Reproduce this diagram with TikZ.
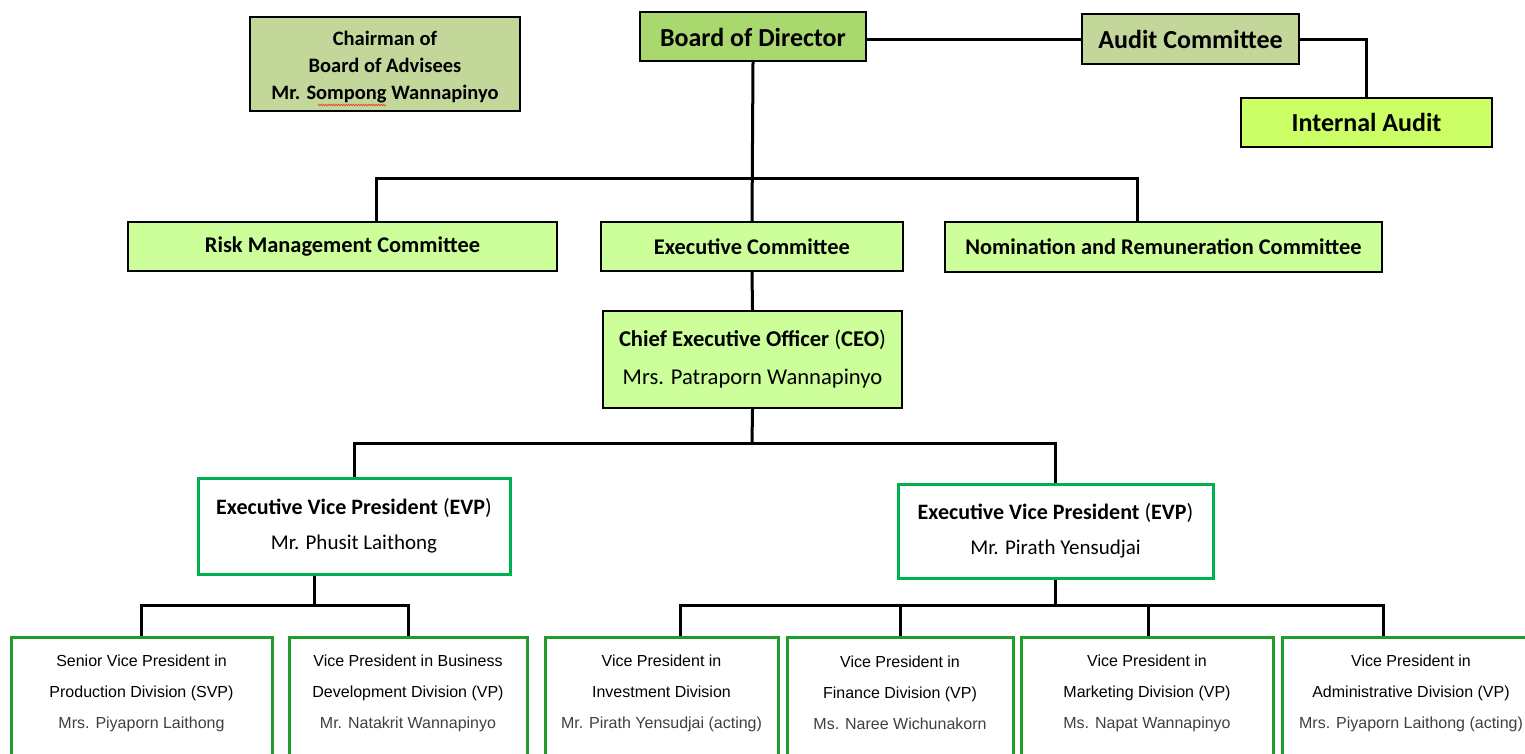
\documentclass[tikz,border=0pt]{standalone}
\usepackage{fontspec}
\setmainfont{Carlito}
\newfontfamily\arialf{Liberation Sans}
\usetikzlibrary{decorations.pathmorphing}
\definecolor{olivebox}{HTML}{C4D79B}
\definecolor{boardbox}{HTML}{A9D86E}
\definecolor{limebox}{HTML}{CCFF66}
\definecolor{palebox}{HTML}{CCFF99}
\definecolor{evpgreen}{HTML}{00B050}
\definecolor{divgreen}{HTML}{1F9E2C}
\definecolor{namegray}{HTML}{404040}
\definecolor{spellred}{HTML}{E03030}
\begin{document}
\begin{tikzpicture}[x=1pt,y=-1pt,
  box/.style={draw=black, line width=2.4pt, inner sep=0pt, align=center, text=black},
  evpbox/.style={draw=evpgreen, fill=white, line width=3pt, inner sep=0pt, align=center},
  divbox/.style={draw=divgreen, fill=white, line width=3pt, inner sep=0pt, minimum height=140pt},
  divtext/.style={align=center, inner sep=0pt, font=\arialf\fontsize{16}{31}\selectfont},
  conn/.style={draw=black, line width=3pt}]
\useasboundingbox (0,0) rectangle (1525,753);
\clip (0,0) rectangle (1525,753);
% top row
\node[box, fill=olivebox, minimum width=270pt, minimum height=94pt,
  font=\fontsize{20.5}{27}\selectfont\bfseries] (chair) at (385,64)
  {\rule{0pt}{21pt}Chairman of\\Board of Advisees\\Mr. Sompong Wannapinyo};
\node[box, fill=boardbox, minimum width=226pt, minimum height=49pt,
  font=\fontsize{26}{30}\selectfont\bfseries] (board) at (753,36.5) {\rule{0pt}{21pt}Board of Director};
\node[box, fill=olivebox, minimum width=217pt, minimum height=50pt,
  font=\fontsize{26}{30}\selectfont\bfseries] (audit) at (1190.5,39) {Audit Committee};
\node[box, fill=limebox, minimum width=251pt, minimum height=49pt,
  font=\fontsize{26}{30}\selectfont\bfseries] (internal) at (1366.5,122.5) {Internal Audit};
% committees
\node[box, fill=palebox, minimum width=429pt, minimum height=49pt,
  font=\fontsize{22.4}{26}\selectfont\bfseries] (risk) at (342.5,246.5) {Risk Management Committee};
\node[box, fill=palebox, minimum width=302pt, minimum height=49pt,
  font=\fontsize{22.4}{26}\selectfont\bfseries] (exec) at (752,246.5) {Executive Committee};
\node[box, fill=palebox, minimum width=437pt, minimum height=50pt,
  font=\fontsize{22.4}{26}\selectfont\bfseries] (nom) at (1163.5,247) {Nomination and Remuneration Committee};
% CEO
\node[box, fill=palebox, minimum width=299pt, minimum height=97pt,
  font=\fontsize{22.6}{38}\selectfont] (ceo) at (752.5,359.5)
  {\textbf{Chief Executive Officer} (\textbf{CEO})\\Mrs. Patraporn Wannapinyo};
% EVPs
\node[evpbox, minimum width=312pt, minimum height=96pt,
  font=\fontsize{21}{35}\selectfont] (evpa) at (354,526)
  {{\fontsize{22}{35}\selectfont\textbf{Executive Vice President} (\textbf{EVP})}\\Mr. Phusit Laithong};
\node[evpbox, minimum width=315pt, minimum height=94pt,
  font=\fontsize{21}{35}\selectfont] (evpb) at (1055.5,531)
  {{\fontsize{22}{35}\selectfont\textbf{Executive Vice President} (\textbf{EVP})}\\Mr. Pirath Yensudjai};
% divisions
\node[divbox, minimum width=261pt] (d1) at (141.5,707) {};
\node[divbox, minimum width=238pt] (d2) at (408,707) {};
\node[divbox, minimum width=233pt] (d3) at (661.5,707) {};
\node[divbox, minimum width=226pt] (d4) at (900,707) {};
\node[divbox, minimum width=252pt] (d5) at (1147,707) {};
\node[divbox, minimum width=258pt] (d6) at (1411,707) {};
\node[divtext] (d1t) at (141.5,693.5) {Senior Vice President in\\Production Division (SVP)\\\textcolor{namegray}{Mrs. Piyaporn Laithong}};
\node[divtext] (d2t) at (408,693.5) {Vice President in Business\\Development Division (VP)\\\textcolor{namegray}{Mr. Natakrit Wannapinyo}};
\node[divtext] (d3t) at (661.5,693.5) {Vice President in\\Investment Division\\\textcolor{namegray}{Mr. Pirath Yensudjai (acting)}};
\node[divtext] (d4t) at (900,693) {Vice President in\\Finance Division (VP)\\\textcolor{namegray}{Ms. Naree Wichunakorn}};
\node[divtext] (d5t) at (1147,693.5) {Vice President in\\Marketing Division (VP)\\\textcolor{namegray}{Ms. Napat Wannapinyo}};
\node[divtext] (d6t) at (1411,693.5) {Vice President in\\Administrative Division (VP)\\\textcolor{namegray}{Mrs. Piyaporn Laithong (acting)}};
% spell-check underline under "Sompong"
\draw[spellred, line width=0.6pt, decorate, decoration={zigzag, amplitude=0.8pt, segment length=2.5pt}]
  (318,105) -- (386,105);
% coordinates for buses
\coordinate (auditturn) at (1366,39);
\coordinate (busL) at (376,178);
\coordinate (busR) at (1137,178);
\coordinate (evpbus) at (752,443);
\coordinate (abus) at (314,605);
\coordinate (bbus) at (1055,605);
% connectors
\path[conn] (audit.west -| board.east) -- (audit.west);
\path[conn] (audit.east) -- (auditturn) -- (internal.north -| auditturn);
\path[conn] (board.south) -- (exec.north);
\path[conn] (risk.north -| busL) -- (busL) -- (busR) -- (nom.north -| busR);
\path[conn] (exec.south) -- (ceo.north);
\path[conn] (ceo.south) -- (evpbus);
\path[conn] (evpa.north) |- (evpbus) -| (evpb.north);
\path[conn] (evpa.south -| abus) -- (abus);
\path[conn] (d1.north) |- (abus) -| (d2.north);
\path[conn] (evpb.south -| bbus) -- (bbus);
\path[conn] (d3.north -| 680,0) |- (bbus) -| (d6.north -| 1383,0);
\path[conn] (d4.north) -- (d4.north |- bbus);
\path[conn] (d5.north -| 1148,0) -- (bbus -| 1148,0);
\end{tikzpicture}
\end{document}
